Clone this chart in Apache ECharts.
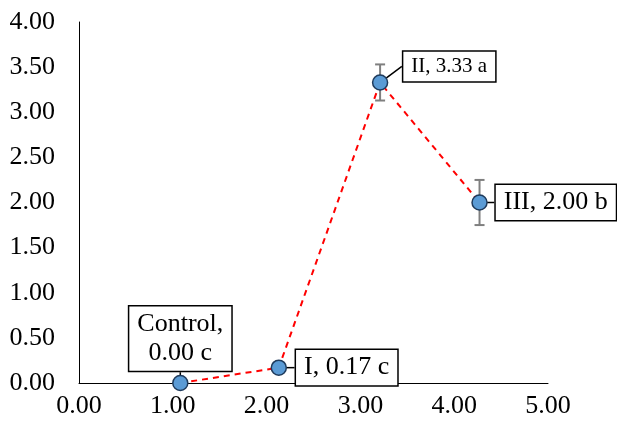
<!DOCTYPE html>
<html>
<head>
<meta charset="utf-8">
<script src="https://cdn.jsdelivr.net/npm/echarts@6/dist/echarts.min.js"></script>
<style>
html,body{margin:0;padding:0;background:#fff;}
#chart{width:617px;height:425px;}
</style>
</head>
<body>
<div id="chart"></div>
<script>
// ---- data ----
const categories = ['Control', 'I', 'II', 'III'];
const xValues = [1.08, 2.13, 3.21, 4.27];
const means = [0.00, 0.17, 3.33, 2.00];
const errors = [0.00, 0.00, 0.20, 0.25];
const letters = ['c', 'c', 'a', 'b'];
const xTickMin = 0, xTickMax = 5, xTickStep = 1;
const yTickMin = 0, yTickMax = 4, yTickStep = 0.5;

const FONT = '"Liberation Serif", "Times New Roman", serif';

const pointData = categories.map((c, i) => [xValues[i], means[i], c, letters[i]]);
const errData = categories.map((c, i) => [xValues[i], means[i] - errors[i], means[i] + errors[i]]);

// label placement (style only)
const labelStyles = [
  { position: 'top', distance: 4, align: 'center', text: (d) => d[2] + ',\n' + d[1].toFixed(2) + ' ' + d[3], fontSize: 26, dx: 0, dy: 0 },
  { position: 'right', distance: 9, align: 'left', text: (d) => d[2] + ', ' + d[1].toFixed(2) + ' ' + d[3], fontSize: 26, dx: 0, dy: 0 },
  { position: 'right', distance: 15, align: 'left', text: (d) => d[2] + ', ' + d[1].toFixed(2) + ' ' + d[3], fontSize: 21, dx: 0, dy: -16 },
  { position: 'right', distance: 8, align: 'left', text: (d) => d[2] + ', ' + d[1].toFixed(2) + ' ' + d[3], fontSize: 26, dx: 0, dy: 0 }
];

const chart = echarts.init(document.getElementById('chart'), null, { renderer: 'canvas' });

chart.setOption({
  backgroundColor: '#ffffff',
  animation: false,
  grid: { left: 79, right: 69, top: 22, bottom: 42, containLabel: false },
  xAxis: {
    type: 'value', min: xTickMin, max: xTickMax, interval: xTickStep,
    axisLine: { show: true, onZero: false, lineStyle: { color: '#000', width: 1 } },
    axisTick: { show: false },
    splitLine: { show: false },
    axisLabel: { color: '#000', fontFamily: FONT, fontSize: 26, margin: 10, formatter: (v) => v.toFixed(2) }
  },
  yAxis: {
    type: 'value', min: yTickMin, max: yTickMax, interval: yTickStep,
    axisLine: { show: true, onZero: false, lineStyle: { color: '#000', width: 1 } },
    axisTick: { show: false },
    splitLine: { show: false },
    axisLabel: { color: '#000', fontFamily: FONT, fontSize: 26, margin: 24, formatter: (v) => v.toFixed(2) }
  },
  series: [
    {
      type: 'line',
      data: pointData.map(d => [d[0], d[1]]),
      symbol: 'none',
      lineStyle: { color: '#FF0000', width: 2, type: [6, 5] },
      z: 2,
      silent: true
    },
    {
      type: 'custom',
      data: errData,
      z: 3,
      silent: true,
      renderItem: function (params, api) {
        const x = api.value(0);
        const lo = api.coord([x, api.value(1)]);
        const hi = api.coord([x, api.value(2)]);
        if (Math.abs(hi[1] - lo[1]) < 1) return { type: 'group', children: [] };
        const cap = 5;
        const style = { stroke: '#7F7F7F', lineWidth: 2 };
        return {
          type: 'group',
          children: [
            { type: 'line', shape: { x1: lo[0], y1: lo[1], x2: hi[0], y2: hi[1] }, style },
            { type: 'line', shape: { x1: lo[0] - cap, y1: lo[1], x2: lo[0] + cap, y2: lo[1] }, style },
            { type: 'line', shape: { x1: hi[0] - cap, y1: hi[1], x2: hi[0] + cap, y2: hi[1] }, style }
          ]
        };
      }
    },
    {
      type: 'scatter',
      z: 5,
      symbol: 'circle',
      symbolSize: 15,
      itemStyle: { color: '#5B9BD5', borderColor: '#1F3B5C', borderWidth: 1.5, opacity: 1 },
      data: pointData.map((d, i) => ({
        value: d,
        label: {
          show: true,
          position: labelStyles[i].position,
          distance: labelStyles[i].distance,
          formatter: labelStyles[i].text(d),
          fontSize: labelStyles[i].fontSize,
          fontFamily: FONT,
          color: '#000',
          lineHeight: labelStyles[i].fontSize * 1.12,
          align: labelStyles[i].align,
          backgroundColor: '#fff',
          borderColor: '#000',
          borderWidth: 1.5,
          padding: [3, 8, 3, 8]
        }
      })),
      labelLine: { show: true, lineStyle: { color: '#000', width: 1.5 } },
      labelLayout: function (params) {
        const s = labelStyles[params.dataIndex];
        return { dx: s.dx, dy: s.dy };
      }
    }
  ]
});
</script>
</body>
</html>
